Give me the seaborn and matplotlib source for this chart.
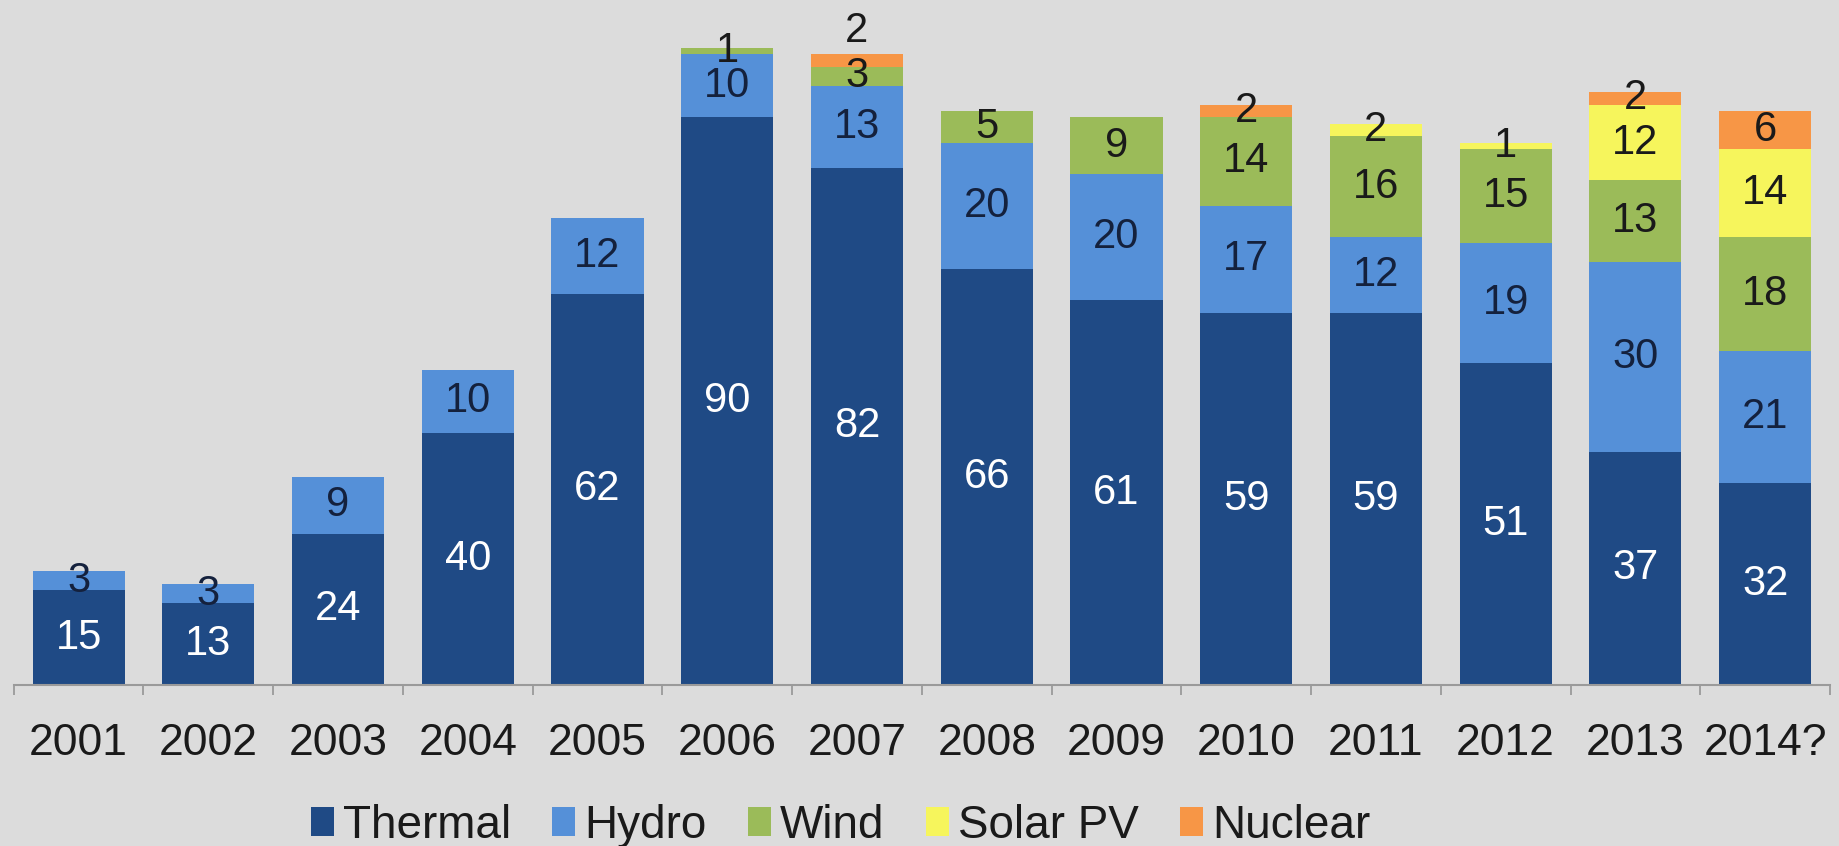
import numpy as np
import pandas as pd
import matplotlib
matplotlib.use("Agg")
import matplotlib.pyplot as plt
from matplotlib.patches import Patch
import seaborn as sns

years = ["2001", "2002", "2003", "2004", "2005", "2006", "2007",
         "2008", "2009", "2010", "2011", "2012", "2013", "2014?"]
thermal = [15, 13, 24, 40, 62, 90, 82, 66, 61, 59, 59, 51, 37, 32]
hydro = [3, 3, 9, 10, 12, 10, 13, 20, 20, 17, 12, 19, 30, 21]
wind = [0, 0, 0, 0, 0, 1, 3, 5, 9, 14, 16, 15, 13, 18]
solar = [0, 0, 0, 0, 0, 0, 0, 0, 0, 0, 2, 1, 12, 14]
nuclear = [0, 0, 0, 0, 0, 0, 2, 0, 0, 2, 0, 0, 2, 6]

series_names = ["Thermal", "Hydro", "Wind", "Solar PV", "Nuclear"]
series_values = [thermal, hydro, wind, solar, nuclear]
colors = ["#1f4a85", "#5590d8", "#9bbb59", "#f6f55c", "#f79646"]
label_colors = ["white", "#14213d", "#1a1a1a", "#1a1a1a", "#1a1a1a"]

sns.set_theme(style="white")
plt.rcParams["font.family"] = ["Liberation Sans", "DejaVu Sans"]

bg = "#dcdcdc"
fig = plt.figure(figsize=(18.39, 8.46), dpi=100, facecolor=bg)
ax = fig.add_axes([13.7 / 1839, 1 - 685 / 846, (1830 - 13.7) / 1839, 685 / 846])
ax.set_facecolor(bg)

df = pd.DataFrame({"year": years})
stack = np.cumsum(np.array(series_values), axis=0)

# Draw cumulative totals from the top layer down so each layer covers the one above's base
for i in range(len(series_names) - 1, -1, -1):
    df["top"] = stack[i]
    sns.barplot(data=df, x="year", y="top", color=colors[i], saturation=1,
                width=0.71, linewidth=0, ax=ax, order=years)

# Segment labels centred in each band; a few small bands get their label lifted
lift = {("Nuclear", "2007"): 21}
for i, name in enumerate(series_names):
    vals = series_values[i]
    for j, v in enumerate(vals):
        if v <= 0:
            continue
        y = stack[i][j] - v / 2
        dy = lift.get((name, years[j]), 0)
        ax.annotate(str(v), (j, y), xytext=(0, dy), textcoords="offset points",
                    ha="center", va="center", fontsize=30,
                    color=label_colors[i])

ax.set_xlim(-0.5, len(years) - 0.5)
ax.set_ylim(0, 108.6)
ax.set_xlabel("")
ax.set_ylabel("")
ax.set_yticks([])
for s in ["top", "right", "left"]:
    ax.spines[s].set_visible(False)
ax.spines["bottom"].set_color("#9a9a9a")
ax.spines["bottom"].set_linewidth(1.5)

ax.set_xticks(range(len(years)))
ax.set_xticklabels(years)
ax.set_xticks(np.arange(-0.5, len(years), 1.0), minor=True)
ax.tick_params(axis="x", which="major", length=0, pad=27, labelsize=32,
               labelcolor="#1a1a1a")
ax.tick_params(axis="x", which="minor", length=7, width=1.3, color="#9a9a9a",
               direction="out", bottom=True)

handles = [Patch(facecolor=c, edgecolor="none", label=n)
           for n, c in zip(series_names, colors)]
fig.legend(handles=handles, loc="center", bbox_to_anchor=(0.457, 0.024),
           ncol=5, frameon=False, fontsize=33, handlelength=0.5,
           handleheight=0.62, handletextpad=0.2, columnspacing=0.9,
           labelcolor="#1a1a1a", borderpad=0, borderaxespad=0)

fig.savefig("out.png", dpi=100, facecolor=bg)
